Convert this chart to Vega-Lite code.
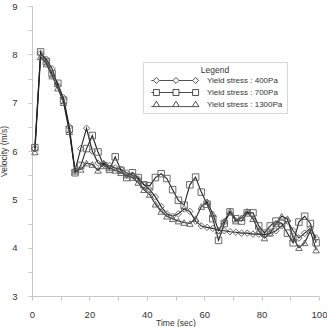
{
  "$schema": "https://vega.github.io/schema/vega-lite/v6.json",
  "width": 287,
  "height": 290,
  "autosize": {"type": "none"},
  "padding": {"left": 32, "top": 6, "right": 8, "bottom": 31},
  "background": "white",
  "config": {
    "font": "Liberation Sans",
    "view": {"stroke": null},
    "axis": {
      "grid": false,
      "domainColor": "#c8c8c8",
      "domainWidth": 1,
      "tickColor": "#c8c8c8",
      "tickSize": 4,
      "labelColor": "#333",
      "labelFontSize": 9.5,
      "titleColor": "#333",
      "titleFontSize": 8.5,
      "titleFontWeight": "normal"
    }
  },
  "datasets": {
    "runs": [
      {"t": 1, "v": 6.05, "s": "Yield stress : 400Pa"},
      {"t": 3, "v": 8.02, "s": "Yield stress : 400Pa"},
      {"t": 5, "v": 7.9, "s": "Yield stress : 400Pa"},
      {"t": 7, "v": 7.7, "s": "Yield stress : 400Pa"},
      {"t": 9, "v": 7.35, "s": "Yield stress : 400Pa"},
      {"t": 11, "v": 7.1, "s": "Yield stress : 400Pa"},
      {"t": 13, "v": 6.5, "s": "Yield stress : 400Pa"},
      {"t": 15, "v": 5.6, "s": "Yield stress : 400Pa"},
      {"t": 17, "v": 6.05, "s": "Yield stress : 400Pa"},
      {"t": 19, "v": 6.47, "s": "Yield stress : 400Pa"},
      {"t": 21, "v": 6.0, "s": "Yield stress : 400Pa"},
      {"t": 23, "v": 5.75, "s": "Yield stress : 400Pa"},
      {"t": 25, "v": 5.72, "s": "Yield stress : 400Pa"},
      {"t": 27, "v": 5.7, "s": "Yield stress : 400Pa"},
      {"t": 29, "v": 5.65, "s": "Yield stress : 400Pa"},
      {"t": 31, "v": 5.62, "s": "Yield stress : 400Pa"},
      {"t": 33, "v": 5.55, "s": "Yield stress : 400Pa"},
      {"t": 35, "v": 5.5, "s": "Yield stress : 400Pa"},
      {"t": 37, "v": 5.42, "s": "Yield stress : 400Pa"},
      {"t": 39, "v": 5.3, "s": "Yield stress : 400Pa"},
      {"t": 41, "v": 5.2, "s": "Yield stress : 400Pa"},
      {"t": 43, "v": 5.05, "s": "Yield stress : 400Pa"},
      {"t": 45, "v": 4.85, "s": "Yield stress : 400Pa"},
      {"t": 47, "v": 4.7, "s": "Yield stress : 400Pa"},
      {"t": 49, "v": 4.65, "s": "Yield stress : 400Pa"},
      {"t": 51, "v": 4.7, "s": "Yield stress : 400Pa"},
      {"t": 53, "v": 4.8, "s": "Yield stress : 400Pa"},
      {"t": 55, "v": 4.75, "s": "Yield stress : 400Pa"},
      {"t": 57, "v": 4.55, "s": "Yield stress : 400Pa"},
      {"t": 59, "v": 4.45, "s": "Yield stress : 400Pa"},
      {"t": 61, "v": 4.42, "s": "Yield stress : 400Pa"},
      {"t": 63, "v": 4.4, "s": "Yield stress : 400Pa"},
      {"t": 65, "v": 4.36, "s": "Yield stress : 400Pa"},
      {"t": 67, "v": 4.35, "s": "Yield stress : 400Pa"},
      {"t": 69, "v": 4.33, "s": "Yield stress : 400Pa"},
      {"t": 71, "v": 4.32, "s": "Yield stress : 400Pa"},
      {"t": 73, "v": 4.3, "s": "Yield stress : 400Pa"},
      {"t": 75, "v": 4.3, "s": "Yield stress : 400Pa"},
      {"t": 77, "v": 4.28, "s": "Yield stress : 400Pa"},
      {"t": 79, "v": 4.28, "s": "Yield stress : 400Pa"},
      {"t": 81, "v": 4.27, "s": "Yield stress : 400Pa"},
      {"t": 83, "v": 4.3, "s": "Yield stress : 400Pa"},
      {"t": 85, "v": 4.35, "s": "Yield stress : 400Pa"},
      {"t": 87, "v": 4.45, "s": "Yield stress : 400Pa"},
      {"t": 89, "v": 4.55, "s": "Yield stress : 400Pa"},
      {"t": 91, "v": 4.35, "s": "Yield stress : 400Pa"},
      {"t": 93, "v": 4.2, "s": "Yield stress : 400Pa"},
      {"t": 95, "v": 4.3, "s": "Yield stress : 400Pa"},
      {"t": 97, "v": 4.4, "s": "Yield stress : 400Pa"},
      {"t": 99, "v": 4.2, "s": "Yield stress : 400Pa"},

      {"t": 1, "v": 6.07, "s": "Yield stress : 700Pa"},
      {"t": 3, "v": 8.05, "s": "Yield stress : 700Pa"},
      {"t": 5, "v": 7.85, "s": "Yield stress : 700Pa"},
      {"t": 7, "v": 7.6, "s": "Yield stress : 700Pa"},
      {"t": 9, "v": 7.4, "s": "Yield stress : 700Pa"},
      {"t": 11, "v": 7.05, "s": "Yield stress : 700Pa"},
      {"t": 13, "v": 6.45, "s": "Yield stress : 700Pa"},
      {"t": 15, "v": 5.55, "s": "Yield stress : 700Pa"},
      {"t": 17, "v": 5.7, "s": "Yield stress : 700Pa"},
      {"t": 19, "v": 6.05, "s": "Yield stress : 700Pa"},
      {"t": 21, "v": 6.32, "s": "Yield stress : 700Pa"},
      {"t": 23, "v": 5.98, "s": "Yield stress : 700Pa"},
      {"t": 25, "v": 5.7, "s": "Yield stress : 700Pa"},
      {"t": 27, "v": 5.62, "s": "Yield stress : 700Pa"},
      {"t": 29, "v": 5.88, "s": "Yield stress : 700Pa"},
      {"t": 31, "v": 5.6, "s": "Yield stress : 700Pa"},
      {"t": 33, "v": 5.45, "s": "Yield stress : 700Pa"},
      {"t": 35, "v": 5.55, "s": "Yield stress : 700Pa"},
      {"t": 37, "v": 5.45, "s": "Yield stress : 700Pa"},
      {"t": 39, "v": 5.3, "s": "Yield stress : 700Pa"},
      {"t": 41, "v": 5.28, "s": "Yield stress : 700Pa"},
      {"t": 43, "v": 5.45, "s": "Yield stress : 700Pa"},
      {"t": 45, "v": 5.53, "s": "Yield stress : 700Pa"},
      {"t": 47, "v": 5.43, "s": "Yield stress : 700Pa"},
      {"t": 49, "v": 5.2, "s": "Yield stress : 700Pa"},
      {"t": 51, "v": 4.98, "s": "Yield stress : 700Pa"},
      {"t": 53, "v": 4.88, "s": "Yield stress : 700Pa"},
      {"t": 55, "v": 5.3, "s": "Yield stress : 700Pa"},
      {"t": 57, "v": 5.46, "s": "Yield stress : 700Pa"},
      {"t": 59, "v": 5.15, "s": "Yield stress : 700Pa"},
      {"t": 61, "v": 4.9, "s": "Yield stress : 700Pa"},
      {"t": 63, "v": 4.6, "s": "Yield stress : 700Pa"},
      {"t": 65, "v": 4.15, "s": "Yield stress : 700Pa"},
      {"t": 67, "v": 4.5, "s": "Yield stress : 700Pa"},
      {"t": 69, "v": 4.74, "s": "Yield stress : 700Pa"},
      {"t": 71, "v": 4.6, "s": "Yield stress : 700Pa"},
      {"t": 73, "v": 4.55, "s": "Yield stress : 700Pa"},
      {"t": 75, "v": 4.72, "s": "Yield stress : 700Pa"},
      {"t": 77, "v": 4.72, "s": "Yield stress : 700Pa"},
      {"t": 79, "v": 4.45, "s": "Yield stress : 700Pa"},
      {"t": 81, "v": 4.3, "s": "Yield stress : 700Pa"},
      {"t": 83, "v": 4.45, "s": "Yield stress : 700Pa"},
      {"t": 85, "v": 4.55, "s": "Yield stress : 700Pa"},
      {"t": 87, "v": 4.5, "s": "Yield stress : 700Pa"},
      {"t": 89, "v": 4.3, "s": "Yield stress : 700Pa"},
      {"t": 91, "v": 4.1, "s": "Yield stress : 700Pa"},
      {"t": 93, "v": 4.53, "s": "Yield stress : 700Pa"},
      {"t": 95, "v": 4.65, "s": "Yield stress : 700Pa"},
      {"t": 97, "v": 4.5, "s": "Yield stress : 700Pa"},
      {"t": 99, "v": 4.1, "s": "Yield stress : 700Pa"},

      {"t": 1, "v": 5.98, "s": "Yield stress : 1300Pa"},
      {"t": 3, "v": 7.95, "s": "Yield stress : 1300Pa"},
      {"t": 5, "v": 7.8, "s": "Yield stress : 1300Pa"},
      {"t": 7, "v": 7.55, "s": "Yield stress : 1300Pa"},
      {"t": 9, "v": 7.3, "s": "Yield stress : 1300Pa"},
      {"t": 11, "v": 7.0, "s": "Yield stress : 1300Pa"},
      {"t": 13, "v": 6.4, "s": "Yield stress : 1300Pa"},
      {"t": 15, "v": 5.58, "s": "Yield stress : 1300Pa"},
      {"t": 17, "v": 5.62, "s": "Yield stress : 1300Pa"},
      {"t": 19, "v": 5.75, "s": "Yield stress : 1300Pa"},
      {"t": 21, "v": 5.72, "s": "Yield stress : 1300Pa"},
      {"t": 23, "v": 5.6, "s": "Yield stress : 1300Pa"},
      {"t": 25, "v": 5.75, "s": "Yield stress : 1300Pa"},
      {"t": 27, "v": 5.65, "s": "Yield stress : 1300Pa"},
      {"t": 29, "v": 5.6, "s": "Yield stress : 1300Pa"},
      {"t": 31, "v": 5.55, "s": "Yield stress : 1300Pa"},
      {"t": 33, "v": 5.5, "s": "Yield stress : 1300Pa"},
      {"t": 35, "v": 5.45, "s": "Yield stress : 1300Pa"},
      {"t": 37, "v": 5.35, "s": "Yield stress : 1300Pa"},
      {"t": 39, "v": 5.2, "s": "Yield stress : 1300Pa"},
      {"t": 41, "v": 5.1, "s": "Yield stress : 1300Pa"},
      {"t": 43, "v": 4.9, "s": "Yield stress : 1300Pa"},
      {"t": 45, "v": 4.75, "s": "Yield stress : 1300Pa"},
      {"t": 47, "v": 4.65, "s": "Yield stress : 1300Pa"},
      {"t": 49, "v": 4.6, "s": "Yield stress : 1300Pa"},
      {"t": 51, "v": 4.55, "s": "Yield stress : 1300Pa"},
      {"t": 53, "v": 4.52, "s": "Yield stress : 1300Pa"},
      {"t": 55, "v": 4.5, "s": "Yield stress : 1300Pa"},
      {"t": 57, "v": 4.6, "s": "Yield stress : 1300Pa"},
      {"t": 59, "v": 4.85, "s": "Yield stress : 1300Pa"},
      {"t": 61, "v": 4.95, "s": "Yield stress : 1300Pa"},
      {"t": 63, "v": 4.7, "s": "Yield stress : 1300Pa"},
      {"t": 65, "v": 4.35, "s": "Yield stress : 1300Pa"},
      {"t": 67, "v": 4.55, "s": "Yield stress : 1300Pa"},
      {"t": 69, "v": 4.75, "s": "Yield stress : 1300Pa"},
      {"t": 71, "v": 4.55, "s": "Yield stress : 1300Pa"},
      {"t": 73, "v": 4.62, "s": "Yield stress : 1300Pa"},
      {"t": 75, "v": 4.75, "s": "Yield stress : 1300Pa"},
      {"t": 77, "v": 4.6, "s": "Yield stress : 1300Pa"},
      {"t": 79, "v": 4.35, "s": "Yield stress : 1300Pa"},
      {"t": 81, "v": 4.2, "s": "Yield stress : 1300Pa"},
      {"t": 83, "v": 4.3, "s": "Yield stress : 1300Pa"},
      {"t": 85, "v": 4.5, "s": "Yield stress : 1300Pa"},
      {"t": 87, "v": 4.65, "s": "Yield stress : 1300Pa"},
      {"t": 89, "v": 4.6, "s": "Yield stress : 1300Pa"},
      {"t": 91, "v": 4.2, "s": "Yield stress : 1300Pa"},
      {"t": 93, "v": 4.0, "s": "Yield stress : 1300Pa"},
      {"t": 95, "v": 4.1, "s": "Yield stress : 1300Pa"},
      {"t": 97, "v": 4.35, "s": "Yield stress : 1300Pa"},
      {"t": 99, "v": 3.95, "s": "Yield stress : 1300Pa"}
    ]
  },
  "data": {"name": "runs"},
  "encoding": {
    "x": {
      "field": "t",
      "type": "quantitative",
      "title": "Time (sec)",
      "scale": {"domain": [0, 100], "nice": false},
      "axis": {
        "values": [0, 10, 20, 30, 40, 50, 60, 70, 80, 90, 100],
        "labelExpr": "datum.value % 20 === 0 ? datum.label : ''",
        "labelPadding": 9,
        "titlePadding": 0,
        "labelFlush": false
      }
    },
    "y": {
      "field": "v",
      "type": "quantitative",
      "title": "Velocity (m/s)",
      "scale": {"domain": [3, 9], "nice": false, "zero": false},
      "axis": {
        "values": [3, 3.5, 4, 4.5, 5, 5.5, 6, 6.5, 7, 7.5, 8, 8.5, 9],
        "format": ".0f",
        "labelExpr": "datum.value % 1 === 0 ? datum.label : ''",
        "labelPadding": 11,
        "titlePadding": 3,
        "labelFlush": false
      }
    }
  },
  "layer": [
    {
      "mark": {"type": "line", "strokeWidth": 1.1},
      "encoding": {
        "color": {
          "field": "s",
          "type": "nominal",
          "scale": {
            "domain": ["Yield stress : 400Pa", "Yield stress : 700Pa", "Yield stress : 1300Pa"],
            "range": ["#222222", "#222222", "#222222"]
          },
          "legend": {
            "title": "Legend",
            "orient": "none",
            "legendX": 111,
            "legendY": 56,
            "direction": "vertical",
            "fillColor": "white",
            "strokeColor": "#d6d6d6",
            "padding": 4,
            "titleFontSize": 8.5,
            "titleFontWeight": "normal",
            "titleColor": "#333",
            "titleAnchor": "middle",
            "titleAlign": "center",
            "titlePadding": 2,
            "labelFontSize": 8,
            "labelColor": "#333",
            "symbolSize": 49,
            "symbolStrokeWidth": 0.8,
            "symbolOffset": 25,
            "labelOffset": 27,
            "rowPadding": 2,
            "encode": {
              "symbols": {
                "update": {
                  "shape": {
                    "signal": "datum.value === 'Yield stress : 400Pa' ? 'M-7.05,0L-6.45,0M-4.75,0L-0.85,0M0.85,0L4.75,0M-6.45,0L-5.6,-0.85L-4.75,0L-5.6,0.85ZM-0.85,0L0,-0.85L0.85,0L0,0.85ZM4.75,0L5.6,-0.85L6.45,0L5.6,0.85Z' : datum.value === 'Yield stress : 700Pa' ? 'M-7.05,0L-6.45,0M-4.75,0L-0.85,0M0.85,0L4.75,0M-6.45,-0.85L-4.75,-0.85L-4.75,0.85L-6.45,0.85ZM-0.85,-0.85L0.85,-0.85L0.85,0.85L-0.85,0.85ZM4.75,-0.85L6.45,-0.85L6.45,0.85L4.75,0.85Z' : 'M-7.05,0.6L-6.55,0.6M-4.65,0.6L-0.95,0.6M0.95,0.6L4.65,0.6M-5.6,-0.95L-4.65,0.6L-6.55,0.6ZM0,-0.95L0.95,0.6L-0.95,0.6ZM5.6,-0.95L6.55,0.6L4.65,0.6Z'"
                  },
                  "stroke": {"value": "#444"},
                  "fill": {"value": "transparent"},
                  "strokeWidth": {"value": 0.8}
                }
              }
            }
          }
        }
      }
    },
    {
      "transform": [{"filter": "datum.s === 'Yield stress : 400Pa'"}],
      "mark": {"type": "point", "shape": "diamond", "filled": false, "stroke": "#5a5a5a", "strokeWidth": 0.9, "size": 42, "opacity": 1}
    },
    {
      "transform": [{"filter": "datum.s === 'Yield stress : 700Pa'"}],
      "mark": {"type": "point", "shape": "square", "filled": false, "stroke": "#5a5a5a", "strokeWidth": 0.9, "size": 42, "opacity": 1}
    },
    {
      "transform": [{"filter": "datum.s === 'Yield stress : 1300Pa'"}],
      "mark": {"type": "point", "shape": "triangle-up", "filled": false, "stroke": "#5a5a5a", "strokeWidth": 0.9, "size": 42, "opacity": 1}
    }
  ]
}
